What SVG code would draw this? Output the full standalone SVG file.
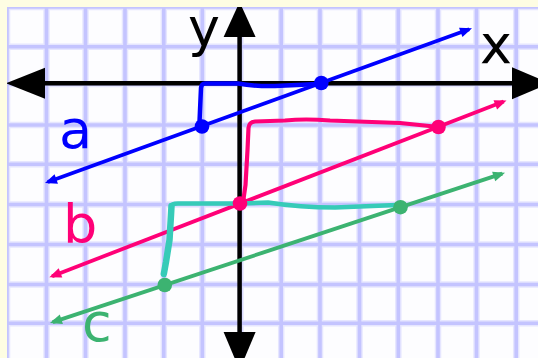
<svg xmlns="http://www.w3.org/2000/svg" width="538" height="358" viewBox="0 0 538 358">
<style>
.grid{stroke:#C4C4FF;stroke-width:3.6}
.halo{stroke:#E6E6FF;stroke-width:6.5}
.axis{stroke:#000;stroke-width:4.5}
.plot{fill:none;stroke-width:3.8}
.hand{fill:none;stroke-linecap:round;stroke-linejoin:round}
.lbl{font-family:"DejaVu Sans",Verdana,sans-serif;font-size:54px}
</style>
<defs>
<marker id="arB" markerUnits="userSpaceOnUse" markerWidth="14" markerHeight="12" refX="9" refY="5" orient="auto-start-reverse" overflow="visible"><path d="M0,0 L12,5 L0,10 z" fill="#0000FF"/></marker>
<marker id="arP" markerUnits="userSpaceOnUse" markerWidth="14" markerHeight="12" refX="9" refY="5" orient="auto-start-reverse" overflow="visible"><path d="M0,0 L12,5 L0,10 z" fill="#FF0077"/></marker>
<marker id="arG" markerUnits="userSpaceOnUse" markerWidth="14" markerHeight="12" refX="9" refY="5" orient="auto-start-reverse" overflow="visible"><path d="M0,0 L12,5 L0,10 z" fill="#3CB371"/></marker>
<g id="gridlines">
<line x1="7" y1="0" x2="7" y2="358"/>
<line x1="46.5" y1="0" x2="46.5" y2="358"/>
<line x1="85.5" y1="0" x2="85.5" y2="358"/>
<line x1="125" y1="0" x2="125" y2="358"/>
<line x1="163.8" y1="0" x2="163.8" y2="358"/>
<line x1="202.3" y1="0" x2="202.3" y2="358"/>
<line x1="240.5" y1="0" x2="240.5" y2="358"/>
<line x1="281.2" y1="0" x2="281.2" y2="358"/>
<line x1="320" y1="0" x2="320" y2="358"/>
<line x1="359.5" y1="0" x2="359.5" y2="358"/>
<line x1="398.3" y1="0" x2="398.3" y2="358"/>
<line x1="438" y1="0" x2="438" y2="358"/>
<line x1="476.5" y1="0" x2="476.5" y2="358"/>
<line x1="516.2" y1="0" x2="516.2" y2="358"/>
<line x1="0" y1="7" x2="538" y2="7"/>
<line x1="0" y1="46.7" x2="538" y2="46.7"/>
<line x1="0" y1="84" x2="538" y2="84"/>
<line x1="0" y1="125" x2="538" y2="125"/>
<line x1="0" y1="164.3" x2="538" y2="164.3"/>
<line x1="0" y1="204.5" x2="538" y2="204.5"/>
<line x1="0" y1="244.5" x2="538" y2="244.5"/>
<line x1="0" y1="284.5" x2="538" y2="284.5"/>
<line x1="0" y1="323.3" x2="538" y2="323.3"/>
</g>
</defs>
<rect x="0" y="0" width="538" height="358" fill="#FDFDFF"/>
<g id="grid-halo" class="halo"><use href="#gridlines"/></g>
<g id="grid" class="grid"><use href="#gridlines"/></g>
<g id="axes">
<line class="axis" x1="20" y1="83.3" x2="530" y2="83.3"/>
<line class="axis" x1="239.6" y1="20" x2="239.6" y2="345"/>
<polygon points="6,83.3 45,67.8 45,98.8" fill="#000"/>
<polygon points="550,83.3 512,67.3 512,99.3" fill="#000"/>
<polygon points="239.6,2 223.6,37 255.6,37" fill="#000"/>
<polygon points="239.6,370 223.6,332 255.6,332" fill="#000"/>
</g>
<g id="connectors">
<line id="line-a" class="plot" x1="47.8" y1="182" x2="469.2" y2="29.3" stroke="#0000FF" marker-start="url(#arB)" marker-end="url(#arB)"/>
<line id="line-b" class="plot" x1="52.1" y1="276.2" x2="503.7" y2="101.6" stroke="#FF0077" marker-start="url(#arP)" marker-end="url(#arP)"/>
<line id="line-c" class="plot" x1="52.8" y1="322.1" x2="502.2" y2="173.6" stroke="#3CB371" marker-start="url(#arG)" marker-end="url(#arG)"/>
<path class="hand" stroke="#0000FF" stroke-width="4.5" d="M199.5,122 L201,88 Q201.5,83.5 205,83.5 L238,83.5 Q255,86.5 275,86 L318,84"/>
<path class="hand" stroke="#FF0077" stroke-width="4.2" d="M243.5,199 L245.5,185 L247.5,150 L248.5,128 Q249,122 255,121.5 L285,120.5 Q305,118.5 330,120.5 L400,123 L434,126.5"/>
<path class="hand" stroke="#36CBB8" stroke-width="6.5" d="M163.8,274 L166,262 L169.5,240 L171,215 L171.5,206"/>
<path class="hand" stroke="#36CBB8" stroke-width="4.5" d="M171.5,206 Q172,203.5 178,203.5 L240,203.5 L268,202.5 Q300,207.5 335,207.5 L397,205"/>
</g>
<g id="points">
<circle cx="202" cy="126.5" r="7.3" fill="#0000FF"/>
<circle cx="321.3" cy="83" r="7.3" fill="#0000FF"/>
<circle cx="240" cy="203.5" r="7.3" fill="#FF0077"/>
<circle cx="438.5" cy="127" r="7.3" fill="#FF0077"/>
<circle cx="164.8" cy="285" r="7.3" fill="#3CB371"/>
<circle cx="400.5" cy="207.2" r="7.3" fill="#3CB371"/>
</g>
<g id="labels" class="lbl">
<text x="59" y="148" fill="#0000FF">a</text>
<text x="63" y="243" fill="#FF0077">b</text>
<text x="82" y="341" fill="#3CB371">c</text>
<text x="188" y="46" fill="#000">y</text>
<text x="480" y="63" fill="#000">x</text>
</g>
<path id="border" d="M0,0 H538 V7 H7 V358 H0 z" fill="#FEFDE3"/>
</svg>
